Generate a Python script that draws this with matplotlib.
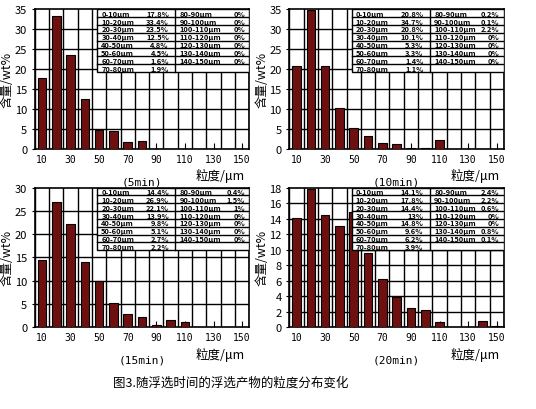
import matplotlib.pyplot as plt
import numpy as np

plt.rcParams['font.family'] = ['Noto Sans CJK SC', 'DejaVu Sans']

# Size bins (um)
bins = ['0-10', '10-20', '20-30', '30-40', '40-50', '50-60', '60-70', '70-80',
        '80-90', '90-100', '100-110', '110-120', '120-130', '130-140', '140-150']
tick_labels = ['10', '30', '50', '70', '90', '110', '130', '150']

# Content (wt%) for each flotation time
wt_5 = [17.8, 33.4, 23.5, 12.5, 4.8, 4.5, 1.6, 1.9, 0, 0, 0, 0, 0, 0, 0]
wt_10 = [20.8, 34.7, 20.8, 10.1, 5.3, 3.3, 1.4, 1.1, 0.2, 0.1, 2.2, 0, 0, 0, 0]
wt_15 = [14.4, 26.9, 22.1, 13.9, 9.8, 5.1, 2.7, 2.2, 0.4, 1.5, 1, 0, 0, 0, 0]
wt_20 = [14.1, 17.8, 14.4, 13, 14.8, 9.6, 6.2, 3.9, 2.4, 2.2, 0.6, 0, 0, 0.8, 0.1]

panels = [(wt_5, '(5min)', 35, 5), (wt_10, '(10min)', 35, 5),
          (wt_15, '(15min)', 30, 5), (wt_20, '(20min)', 18, 2)]
boxes = [(0.065, 0.635), (0.54, 0.635), (0.065, 0.2), (0.54, 0.2)]

fig = plt.figure(figsize=(5.36, 4.1), dpi=100)
bar_c = '#6e1010'

for (vals, title, ymax, step), (x0, y0) in zip(panels, boxes):
    ax = fig.add_axes([x0, y0, 0.40, 0.34])
    x = np.arange(len(vals))
    ax.bar(x, vals, width=0.6, color=bar_c, edgecolor='black', linewidth=0.8, zorder=3)
    ax.set_xlim(-0.5, len(vals) - 0.5)
    ax.set_ylim(0, ymax)
    ax.set_yticks(np.arange(0, ymax + 1, step))
    ax.set_xticks(x[::2])
    ax.set_xticklabels(tick_labels, fontsize=7, family='DejaVu Sans Mono')
    ax.tick_params(axis='y', labelsize=8, length=2)
    ax.tick_params(axis='x', length=4, direction='in')
    for xb in np.arange(-0.5, len(vals), 1):
        ax.axvline(xb, color='black', lw=1.0, zorder=1)
    for yv in np.arange(step, ymax, step):
        ax.axhline(yv, color='black', lw=1.0, zorder=1)
    for s in ax.spines.values():
        s.set_linewidth(1.2)
    ax.set_ylabel('含量/wt%', fontsize=9, labelpad=1)
    ax.text(0.5, -0.2, title, transform=ax.transAxes, ha='center', va='top',
            fontsize=8, family='DejaVu Sans Mono')
    ax.text(0.98, -0.14, '粒度/μm', transform=ax.transAxes, ha='right', va='top', fontsize=9)

    # inset table with percentages
    tx0, ty1, ty0, tsplit = 0.29, 1.0, 0.55, 0.655
    ax.add_patch(plt.Rectangle((tx0, ty0), 1 - tx0, ty1 - ty0, transform=ax.transAxes,
                               facecolor='white', edgecolor='black', lw=1.0, zorder=4))
    rh = (ty1 - ty0) / 8
    for r in range(8):
        yc = ty1 - (r + 0.5) * rh
        ax.text(tx0 + 0.02, yc, f'{bins[r]}μm', transform=ax.transAxes, fontsize=5.4,
                va='center', zorder=5, weight='bold')
        ax.text(tsplit - 0.03, yc, f'{vals[r]:g}%', transform=ax.transAxes, fontsize=5.4,
                va='center', ha='right', zorder=5, weight='bold')
        if r < 7:
            ax.text(tsplit + 0.02, yc, f'{bins[r + 8]}μm', transform=ax.transAxes, fontsize=5.4,
                    va='center', zorder=5, weight='bold')
            ax.text(0.98, yc, f'{vals[r + 8]:g}%', transform=ax.transAxes, fontsize=5.4,
                    va='center', ha='right', zorder=5, weight='bold')
        if r > 0:
            ax.plot([tx0, 1], [ty1 - r * rh] * 2, color='black',
                    lw=1.0, transform=ax.transAxes, zorder=5)
    ax.plot([tsplit, tsplit], [ty0, ty1], color='black', lw=1.0, transform=ax.transAxes, zorder=5)

fig.text(0.43, 0.065, '图3.随浮选时间的浮选产物的粒度分布变化', ha='center', va='center', fontsize=9)
fig.savefig('out.png', dpi=100)
